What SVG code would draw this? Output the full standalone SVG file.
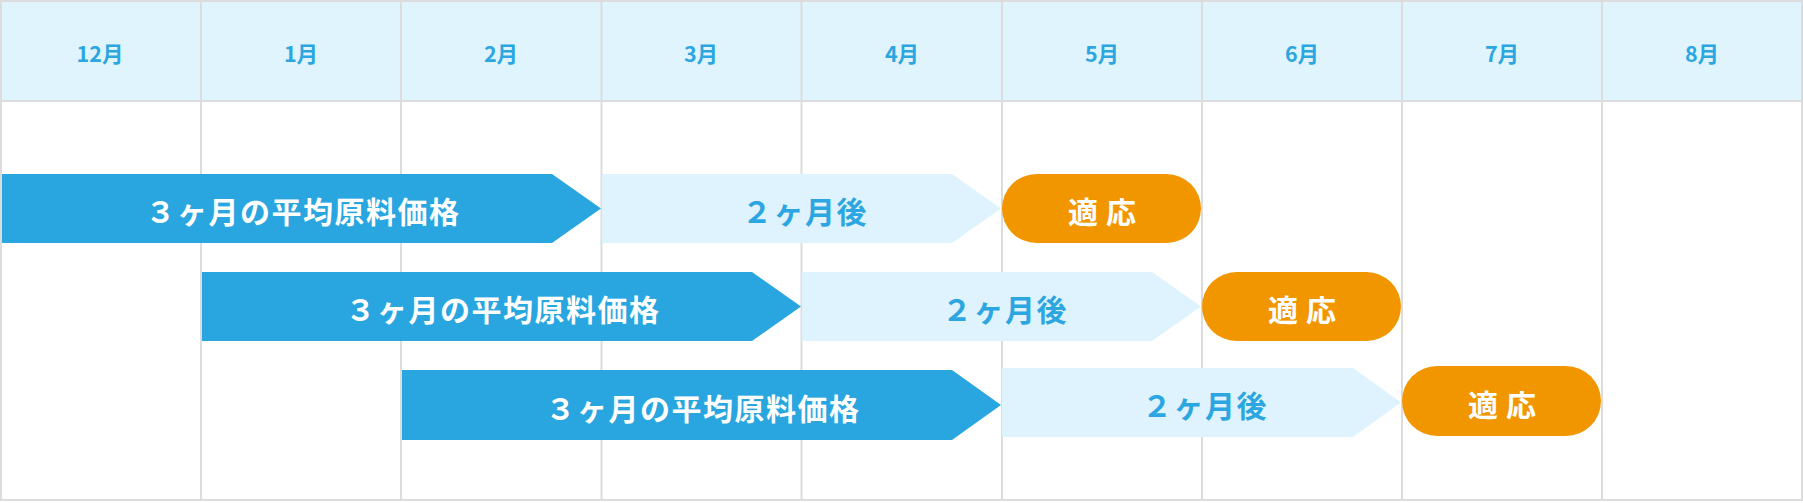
<svg xmlns="http://www.w3.org/2000/svg" width="1803" height="503" viewBox="0 0 1803 503">
  <style>
    .hdr { fill: #dff4fd; }
    .grid { stroke: #dcdcdc; stroke-width: 2; fill: none; }
    .mon { font-family: "Noto Sans CJK JP", "Noto Sans", sans-serif; font-weight: 700; font-size: 21.5px; fill: #2ca6e0; text-anchor: middle; }
    .avg { fill: #29a6e0; }
    .after { fill: #def3fd; }
    .apply { fill: #f29600; }
    .lbl { font-family: "Noto Sans CJK JP", sans-serif; font-weight: 700; font-size: 30px; text-anchor: middle; letter-spacing: 1.5px; }
    .w { fill: #ffffff; }
    .b { fill: #2ca6e0; }
    .ap { font-family: "Noto Sans CJK JP", sans-serif; font-weight: 700; font-size: 30px; text-anchor: middle; letter-spacing: 8px; fill: #ffffff; }
  </style>
  <rect x="0" y="0" width="1803" height="503" fill="#ffffff"/>
  <g id="header">
    <rect class="hdr" x="1" y="1" width="1801" height="100"/>
  </g>
  <g id="grid">
    <rect class="grid" x="1" y="1" width="1801" height="499"/>
    <line class="grid" x1="1" y1="101" x2="1802" y2="101"/>
    <line class="grid" x1="201" y1="1" x2="201" y2="500"/>
    <line class="grid" x1="401" y1="1" x2="401" y2="500"/>
    <line class="grid" x1="601.5" y1="1" x2="601.5" y2="500"/>
    <line class="grid" x1="801.5" y1="1" x2="801.5" y2="500"/>
    <line class="grid" x1="1002" y1="1" x2="1002" y2="500"/>
    <line class="grid" x1="1202" y1="1" x2="1202" y2="500"/>
    <line class="grid" x1="1402" y1="1" x2="1402" y2="500"/>
    <line class="grid" x1="1602" y1="1" x2="1602" y2="500"/>
  </g>
  <g id="months">
    <text class="mon" x="100" y="61.5">12月</text>
    <text class="mon" x="301" y="61.5">1月</text>
    <text class="mon" x="501" y="61.5">2月</text>
    <text class="mon" x="701" y="61.5">3月</text>
    <text class="mon" x="902" y="61.5">4月</text>
    <text class="mon" x="1102" y="61.5">5月</text>
    <text class="mon" x="1302" y="61.5">6月</text>
    <text class="mon" x="1502" y="61.5">7月</text>
    <text class="mon" x="1702" y="61.5">8月</text>
  </g>
  <g id="row1">
    <g id="avg1">
      <polygon class="avg" points="2,174 552,174 601,208.5 552,243 2,243"/>
      <text class="lbl w" x="303" y="223">３ヶ月の平均原料価格</text>
    </g>
    <g id="after1">
      <polygon class="after" points="602,174 952,174 1001,208.5 952,243 602,243"/>
      <text class="lbl b" x="805" y="223">２ヶ月後</text>
    </g>
    <g id="apply1">
      <rect class="apply" x="1002" y="174" width="199" height="69" rx="34.5"/>
      <text class="ap" x="1106" y="223">適応</text>
    </g>
  </g>
  <g id="row2">
    <g id="avg2">
      <polygon class="avg" points="202,272 752,272 801,306.5 752,341 202,341"/>
      <text class="lbl w" x="503" y="321">３ヶ月の平均原料価格</text>
    </g>
    <g id="after2">
      <polygon class="after" points="802,272 1152,272 1201,306.5 1152,341 802,341"/>
      <text class="lbl b" x="1005" y="321">２ヶ月後</text>
    </g>
    <g id="apply2">
      <rect class="apply" x="1202" y="272" width="199" height="69" rx="34.5"/>
      <text class="ap" x="1306" y="321">適応</text>
    </g>
  </g>
  <g id="row3">
    <g id="avg3">
      <polygon class="avg" points="402,370 952,370 1001,405 952,440 402,440"/>
      <text class="lbl w" x="703" y="419.5">３ヶ月の平均原料価格</text>
    </g>
    <g id="after3">
      <polygon class="after" points="1002,368 1353,368 1401,402.5 1353,437 1002,437"/>
      <text class="lbl b" x="1205" y="417">２ヶ月後</text>
    </g>
    <g id="apply3">
      <rect class="apply" x="1402" y="366" width="199" height="70" rx="35"/>
      <text class="ap" x="1506" y="415.5">適応</text>
    </g>
  </g>
</svg>
